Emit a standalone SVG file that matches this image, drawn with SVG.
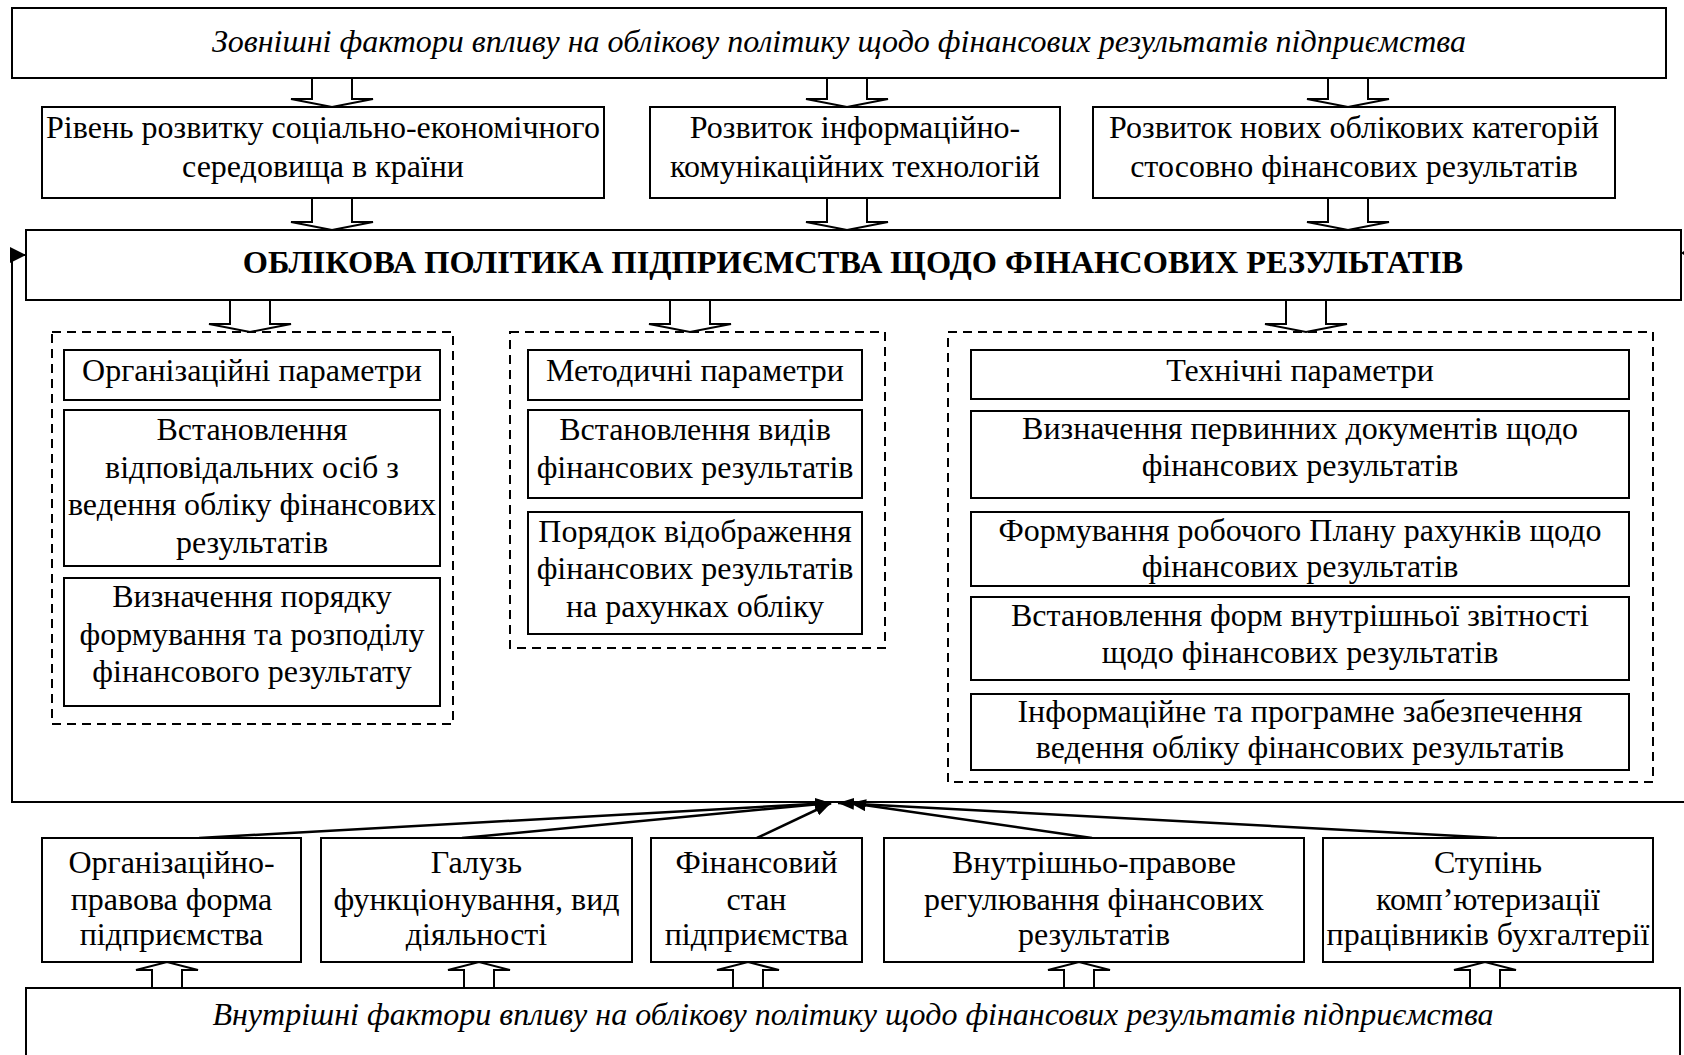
<svg xmlns="http://www.w3.org/2000/svg" width="1684" height="1055" viewBox="0 0 1684 1055">
<style>
.box{fill:#fff;stroke:#000;stroke-width:2}
.dash{fill:none;stroke:#000;stroke-width:2;stroke-dasharray:9 6}
.t{font-family:"Liberation Serif","Times New Roman",serif;font-size:32px;text-anchor:middle;fill:#000}
.ti{font-style:italic}
.tb{font-weight:bold;font-size:32.4px}
.ba{fill:#fff;stroke:#000;stroke-width:2;stroke-linejoin:miter}
.ln{fill:none;stroke:#000;stroke-width:2.5}
.fb{fill:none;stroke:#000;stroke-width:2}
</style>
<defs>
<marker id="ah" markerUnits="userSpaceOnUse" markerWidth="16" markerHeight="12" refX="16" refY="6" orient="auto">
<path d="M0,0 L16,6 L0,12 Z" fill="#000"/>
</marker>
<marker id="fh" markerUnits="userSpaceOnUse" markerWidth="16" markerHeight="16" refX="16" refY="8" orient="auto">
<path d="M0,0 L16,8 L0,16 Z" fill="#000"/>
</marker>
</defs>
<rect width="1684" height="1055" fill="#fff"/>
<g id="connectors">
<path class="ba" d="M312,78 V99 H291 L332,107 L373,99 H352 V78"/>
<path class="ba" d="M827,78 V99 H806 L847,107 L888,99 H867 V78"/>
<path class="ba" d="M1328,78 V99 H1307 L1348,107 L1389,99 H1368 V78"/>
<path class="ba" d="M312,198 V222 H291 L332,230 L373,222 H352 V198"/>
<path class="ba" d="M827,198 V222 H806 L847,230 L888,222 H867 V198"/>
<path class="ba" d="M1328,198 V222 H1307 L1348,230 L1389,222 H1368 V198"/>
<path class="ba" d="M230,300 V324 H209 L250,332 L291,324 H270 V300"/>
<path class="ba" d="M670,300 V324 H649 L690,332 L731,324 H710 V300"/>
<path class="ba" d="M1286,300 V324 H1265 L1306,332 L1347,324 H1326 V300"/>
<path class="ba" d="M152,988 V970 H136 L167,962 L198,970 H182 V988"/>
<path class="ba" d="M464,988 V970 H448 L479,962 L510,970 H494 V988"/>
<path class="ba" d="M733,988 V970 H717 L748,962 L779,970 H763 V988"/>
<path class="ba" d="M1064,988 V970 H1048 L1079,962 L1110,970 H1094 V988"/>
<path class="ba" d="M1470,988 V970 H1454 L1485,962 L1516,970 H1500 V988"/>
<path class="fb" d="M1684,802 H12 V255 H26" marker-end="url(#fh)"/>
<path d="M1681,253 L1684,251 L1684,255 Z" fill="#000"/>
<line class="ln" x1="199" y1="838" x2="831" y2="803" marker-end="url(#ah)"/>
<line class="ln" x1="462" y1="838" x2="831" y2="803" marker-end="url(#ah)"/>
<line class="ln" x1="757" y1="838" x2="831" y2="803" marker-end="url(#ah)"/>
<line class="ln" x1="1092" y1="838" x2="850" y2="803" marker-end="url(#ah)"/>
<line class="ln" x1="1497" y1="838" x2="838" y2="803" marker-end="url(#ah)"/>
</g>
<g id="external">
<rect class="box" x="12" y="8" width="1654" height="70"/>
<text class="t ti" x="839" y="52">Зовнішні фактори впливу на облікову політику щодо фінансових результатів підприємства</text>
</g>
<g id="ext1">
<rect class="box" x="42" y="107" width="562" height="91"/>
<text class="t" x="323" y="138">Рівень розвитку соціально-економічного</text>
<text class="t" x="323" y="177">середовища в країни</text>
</g>
<g id="ext2">
<rect class="box" x="650" y="107" width="410" height="91"/>
<text class="t" x="855" y="138">Розвиток інформаційно-</text>
<text class="t" x="855" y="177">комунікаційних технологій</text>
</g>
<g id="ext3">
<rect class="box" x="1093" y="107" width="522" height="91"/>
<text class="t" x="1354" y="138">Розвиток нових облікових категорій</text>
<text class="t" x="1354" y="177">стосовно фінансових результатів</text>
</g>
<g id="policy">
<rect class="box" x="26" y="230" width="1655" height="70"/>
<text class="t tb" x="853" y="273">ОБЛІКОВА ПОЛІТИКА ПІДПРИЄМСТВА ЩОДО ФІНАНСОВИХ РЕЗУЛЬТАТІВ</text>
</g>
<g id="org-group">
<rect class="dash" x="52" y="332" width="401" height="392"/>
<g id="org-head">
<rect class="box" x="64" y="350" width="376" height="50"/>
<text class="t" x="252" y="381">Організаційні параметри</text>
</g>
<g id="org-1">
<rect class="box" x="64" y="410" width="376" height="156"/>
<text class="t" x="252" y="440">Встановлення</text>
<text class="t" x="252" y="477.5">відповідальних осіб з</text>
<text class="t" x="252" y="515">ведення обліку фінансових</text>
<text class="t" x="252" y="552.5">результатів</text>
</g>
<g id="org-2">
<rect class="box" x="64" y="578" width="376" height="128"/>
<text class="t" x="252" y="607">Визначення порядку</text>
<text class="t" x="252" y="644.5">формування та розподілу</text>
<text class="t" x="252" y="682">фінансового результату</text>
</g>
</g>
<g id="meth-group">
<rect class="dash" x="510" y="332" width="375" height="316"/>
<g id="meth-head">
<rect class="box" x="528" y="350" width="334" height="50"/>
<text class="t" x="695" y="381">Методичні параметри</text>
</g>
<g id="meth-1">
<rect class="box" x="528" y="410" width="334" height="88"/>
<text class="t" x="695" y="440">Встановлення видів</text>
<text class="t" x="695" y="478">фінансових результатів</text>
</g>
<g id="meth-2">
<rect class="box" x="528" y="512" width="334" height="122"/>
<text class="t" x="695" y="541.5">Порядок відображення</text>
<text class="t" x="695" y="579">фінансових результатів</text>
<text class="t" x="695" y="616.5">на рахунках обліку</text>
</g>
</g>
<g id="tech-group">
<rect class="dash" x="948" y="332" width="705" height="450"/>
<g id="tech-head">
<rect class="box" x="971" y="350" width="658" height="49"/>
<text class="t" x="1300" y="381">Технічні параметри</text>
</g>
<g id="tech-1">
<rect class="box" x="971" y="411" width="658" height="87"/>
<text class="t" x="1300" y="439">Визначення первинних документів щодо</text>
<text class="t" x="1300" y="476">фінансових результатів</text>
</g>
<g id="tech-2">
<rect class="box" x="971" y="512" width="658" height="74"/>
<text class="t" x="1300" y="541">Формування робочого Плану рахунків щодо</text>
<text class="t" x="1300" y="577">фінансових результатів</text>
</g>
<g id="tech-3">
<rect class="box" x="971" y="597" width="658" height="83"/>
<text class="t" x="1300" y="625.5">Встановлення форм внутрішньої звітності</text>
<text class="t" x="1300" y="663">щодо фінансових результатів</text>
</g>
<g id="tech-4">
<rect class="box" x="971" y="694" width="658" height="76"/>
<text class="t" x="1300" y="721.5">Інформаційне та програмне забезпечення</text>
<text class="t" x="1300" y="758">ведення обліку фінансових результатів</text>
</g>
</g>
<g id="int1">
<rect class="box" x="42" y="838" width="259" height="124"/>
<text class="t" x="171.5" y="873">Організаційно-</text>
<text class="t" x="171.5" y="909.5">правова форма</text>
<text class="t" x="171.5" y="945">підприємства</text>
</g>
<g id="int2">
<rect class="box" x="321" y="838" width="311" height="124"/>
<text class="t" x="476.5" y="873">Галузь</text>
<text class="t" x="476.5" y="909.5">функціонування, вид</text>
<text class="t" x="476.5" y="945">діяльності</text>
</g>
<g id="int3">
<rect class="box" x="651" y="838" width="211" height="124"/>
<text class="t" x="756.5" y="873">Фінансовий</text>
<text class="t" x="756.5" y="909.5">стан</text>
<text class="t" x="756.5" y="945">підприємства</text>
</g>
<g id="int4">
<rect class="box" x="884" y="838" width="420" height="124"/>
<text class="t" x="1094" y="873">Внутрішньо-правове</text>
<text class="t" x="1094" y="909.5">регулювання фінансових</text>
<text class="t" x="1094" y="945">результатів</text>
</g>
<g id="int5">
<rect class="box" x="1323" y="838" width="330" height="124"/>
<text class="t" x="1488" y="873">Ступінь</text>
<text class="t" x="1488" y="909.5">комп’ютеризації</text>
<text class="t" x="1488" y="945">працівників бухгалтерії</text>
</g>
<g id="internal">
<rect class="box" x="26" y="988" width="1654" height="80"/>
<text class="t ti" x="853" y="1025">Внутрішні фактори впливу на облікову політику щодо фінансових результатів підприємства</text>
</g>
</svg>
